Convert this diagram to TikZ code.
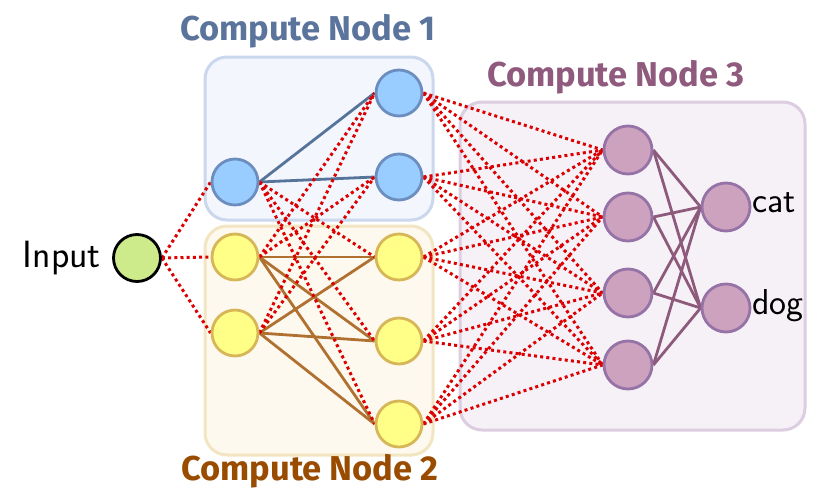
\documentclass[tikz,border=0pt]{standalone}
\usepackage{fontspec}
\newfontfamily\titlefont{Fira Sans}
\usetikzlibrary{positioning}
\definecolor{blueFill}{HTML}{99CCFF}
\definecolor{blueLine}{HTML}{6C8EBF}
\definecolor{blueEdge}{HTML}{56739A}
\definecolor{yelFill}{HTML}{FFFF88}
\definecolor{yelLine}{HTML}{D6B656}
\definecolor{yelEdge}{HTML}{B07030}
\definecolor{purFill}{HTML}{CDA2BE}
\definecolor{purLine}{HTML}{9673A6}
\definecolor{purEdge}{HTML}{8E5A7C}
\definecolor{grnFill}{HTML}{CDEB8B}
\definecolor{dotRed}{HTML}{DD0000}
\definecolor{box1Fill}{HTML}{F3F6FD}
\definecolor{box1Line}{HTML}{CAD7EC}
\definecolor{box2Fill}{HTML}{FEF9EE}
\definecolor{box2Line}{HTML}{F2E5C2}
\definecolor{box3Fill}{HTML}{F6F1F7}
\definecolor{box3Line}{HTML}{DCCDE0}
\definecolor{title1}{HTML}{5A749C}
\definecolor{title2}{HTML}{994C00}
\definecolor{title3}{HTML}{8F5A7E}
\pgfdeclarelayer{back}
\pgfdeclarelayer{edges}
\pgfsetlayers{back,edges,main}
\tikzset{
  neuron/.style={circle, line width=2.8pt, minimum size=46pt, inner sep=0pt},
  bluen/.style={neuron, fill=blueFill, draw=blueLine},
  yeln/.style={neuron, fill=yelFill, draw=yelLine},
  purn/.style={neuron, minimum size=48pt, fill=purFill, draw=purLine},
  inn/.style={neuron, minimum size=47pt, fill=grnFill, draw=black},
  cbox/.style={rounded corners=22pt, line width=3pt},
  ttl/.style={font=\titlefont\bfseries\fontsize{34.5}{38}\selectfont, anchor=base},
  lbl/.style={font=\sffamily\fontsize{38}{42}\selectfont, inner sep=0pt},
  lbls/.style={font=\sffamily\fontsize{36}{40}\selectfont, inner sep=0pt},
  cross/.style={draw=dotRed, line width=3pt, dash pattern=on 3pt off 3.2pt},
  blueE/.style={draw=blueEdge, line width=2.8pt},
  yelE/.style={draw=yelEdge, line width=2.8pt},
  purE/.style={draw=purEdge, line width=2.8pt},
}
\begin{document}
\begin{tikzpicture}[x=1pt,y=-1pt]
\useasboundingbox (0,0) rectangle (840,501);
% boxes
\begin{pgfonlayer}{back}
\draw[cbox, fill=box1Fill, draw=box1Line] (205,57) rectangle (433,220);
\draw[cbox, fill=box2Fill, draw=box2Line] (205,226) rectangle (433,455);
\draw[cbox, fill=box3Fill, draw=box3Line] (460,102) rectangle (805,430);
\end{pgfonlayer}
% titles
\node[ttl, text=title1] (t1) at (308,40) {Compute Node 1};
\node[ttl, text=title2] (t2) at (310,480) {Compute Node 2};
\node[ttl, text=title3] (t3) at (616,86) {Compute Node 3};
% neurons
\node[inn] (in) at (137,258) {};
\node[bluen] (a1) at (235,182) {};
\node[yeln] (a2) at (235,257) {};
\node[yeln] (a3) at (235,333) {};
\node[bluen] (b1) at (399,93) {};
\node[bluen] (b2) at (399,177) {};
\node[yeln] (b3) at (399,257) {};
\node[yeln] (b4) at (399,341) {};
\node[yeln] (b5) at (399,424) {};
\node[purn] (c1) at (628,150) {};
\node[purn] (c2) at (628,217) {};
\node[purn] (c3) at (628,293) {};
\node[purn] (c4) at (628,365) {};
\node[purn] (o1) at (726,207) {};
\node[purn] (o2) at (726,308) {};
% labels
\node[lbl, anchor=base east] (lin) at (101,267) {Input};
\node[lbls, anchor=base west] (lcat) at (752,212) {cat};
\node[lbls, anchor=base west] (ldog) at (752,314) {dog};
% edges
\begin{pgfonlayer}{edges}
\foreach \t in {b1,b2} \draw[blueE] (a1.east) -- (\t.west);
\foreach \s in {a2,a3} \foreach \t in {b3,b4,b5} \draw[yelE] (\s.east) -- (\t.west);
\foreach \s in {c1,c2,c3,c4} \foreach \t in {o1,o2} \draw[purE] (\s.east) -- (\t.west);
\foreach \t in {a1,a2,a3} \draw[cross] (in.east) -- (\t.west);
\foreach \t in {b3,b4,b5} \draw[cross] (a1.east) -- (\t.west);
\foreach \s in {a2,a3} \foreach \t in {b1,b2} \draw[cross] (\s.east) -- (\t.west);
\foreach \s in {b1,b2,b3,b4,b5} \foreach \t in {c1,c2,c3,c4} \draw[cross] (\s.east) -- (\t.west);
\end{pgfonlayer}
\end{tikzpicture}
\end{document}
